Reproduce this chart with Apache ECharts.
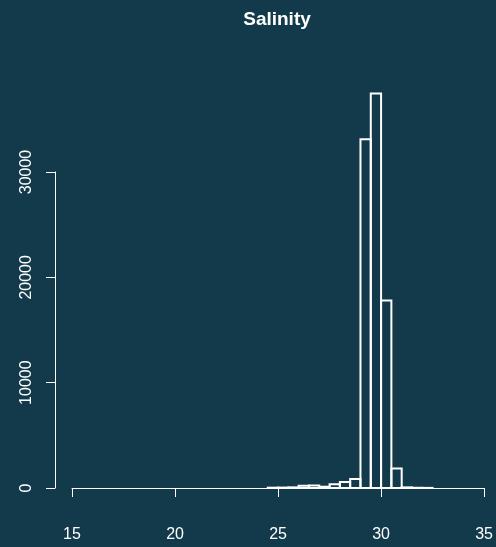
<!DOCTYPE html>
<html>
<head>
<meta charset="utf-8">
<script src="https://cdn.jsdelivr.net/npm/echarts@6/dist/echarts.min.js"></script>
<style>
  html, body { margin: 0; padding: 0; background: #133a4b; }
  #chart { width: 496px; height: 547px; }
</style>
</head>
<body>
<div id="chart"></div>
<script>
// Histogram of salinity readings: bins of width 0.5
const binStarts = [24.5, 25, 25.5, 26, 26.5, 27, 27.5, 28, 28.5, 29, 29.5, 30, 30.5, 31, 31.5, 32];
const binWidth = 0.5;
const counts = [30, 40, 60, 220, 230, 120, 350, 580, 850, 33100, 37450, 17800, 1850, 60, 20, 10];
const xTicks = [15, 20, 25, 30, 35];
const yTicks = [0, 10000, 20000, 30000];

const fg = '#ffffff';
const chart = echarts.init(document.getElementById('chart'));

const bars = binStarts.map((s, i) => [s, s + binWidth, counts[i]]);

chart.setOption({
  backgroundColor: '#133a4b',
  animation: false,
  title: {
    text: 'Salinity',
    left: 272,
    top: 5,
    textAlign: 'center',
    textStyle: { color: fg, fontFamily: 'Liberation Sans, Arial', fontWeight: 'bold', fontSize: 19 }
  },
  grid: { left: 72, right: 11, top: 172, bottom: 59, containLabel: false },
  xAxis: {
    type: 'value',
    min: xTicks[0], max: xTicks[xTicks.length - 1], interval: 5,
    offset: 17,
    splitLine: { show: false },
    axisLine: { show: true, lineStyle: { color: fg, width: 1 } },
    axisTick: { show: true, length: 9, lineStyle: { color: fg } },
    axisLabel: { color: fg, fontSize: 16, margin: 22, fontFamily: 'Liberation Sans, Arial',
      formatter: v => String(v) }
  },
  yAxis: {
    type: 'value',
    min: yTicks[0], max: yTicks[yTicks.length - 1], interval: 10000,
    offset: 17,
    splitLine: { show: false },
    axisLine: { show: true, lineStyle: { color: fg, width: 1 } },
    axisTick: { show: true, length: 9, lineStyle: { color: fg } },
    axisLabel: { color: fg, fontSize: 16, margin: 20, rotate: 90, fontFamily: 'Liberation Sans, Arial',
      formatter: v => String(v) }
  },
  series: [{
    type: 'custom',
    clip: false,
    data: bars,
    renderItem: function (params, api) {
      const p0 = api.coord([api.value(0), api.value(2)]);
      const p1 = api.coord([api.value(1), 0]);
      return {
        type: 'rect',
        shape: { x: p0[0], y: p0[1], width: p1[0] - p0[0], height: p1[1] - p0[1] },
        style: { fill: 'none', stroke: fg, lineWidth: 2 }
      };
    }
  }]
});
</script>
</body>
</html>
